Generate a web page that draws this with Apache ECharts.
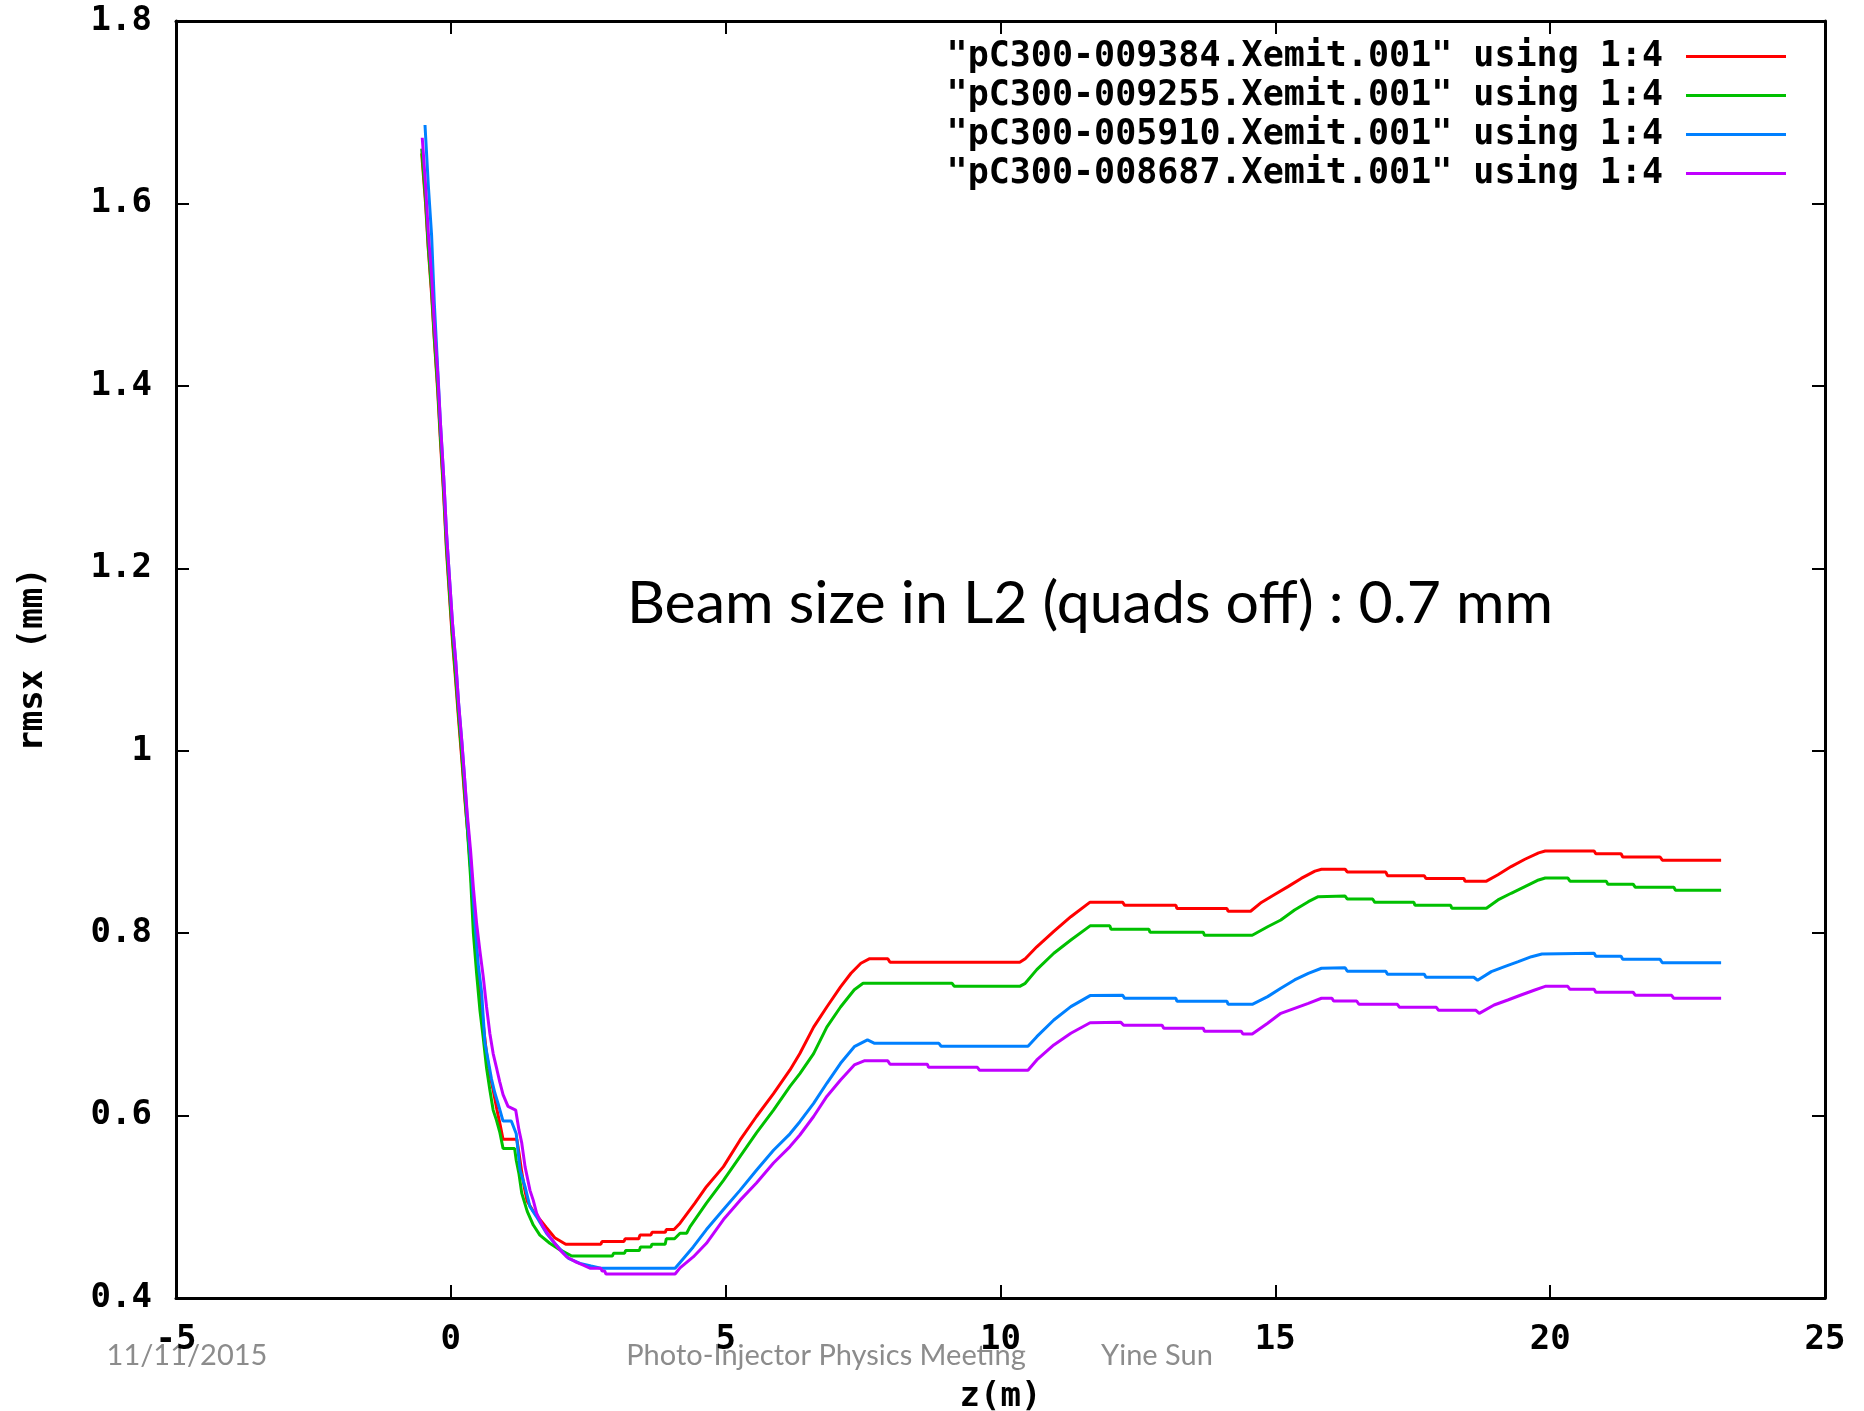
<!DOCTYPE html>
<html>
<head>
<meta charset="utf-8">
<script src="https://cdn.jsdelivr.net/npm/echarts@6/dist/echarts.min.js"></script>
<style>
html,body{margin:0;padding:0;background:#fff;}
#main{width:1864px;height:1411px;}
</style>
</head>
<body>
<div id="main"></div>
<script>
// legend names (gnuplot style)
var seriesNames = [
  '"pC300-009384.Xemit.001" using 1:4',
  '"pC300-009255.Xemit.001" using 1:4',
  '"pC300-005910.Xemit.001" using 1:4',
  '"pC300-008687.Xemit.001" using 1:4'
];
var seriesColors = ['#ff0000', '#00c000', '#0080ff', '#c000ff'];

// [z (m), rmsx (mm)]
var red009384 = [[-0.53,1.655],[-0.46,1.60],[-0.41,1.55],[-0.35,1.50],[-0.30,1.45],[-0.24,1.395],[-0.19,1.34],[-0.13,1.28],[-0.08,1.22],[-0.02,1.165],[0.03,1.12],[0.09,1.075],[0.14,1.035],[0.20,0.99],[0.25,0.95],[0.30,0.915],[0.36,0.87],[0.41,0.82],[0.47,0.775],[0.53,0.735],[0.59,0.70],[0.65,0.668],[0.71,0.645],[0.77,0.628],[0.84,0.606],[0.90,0.589],[0.95,0.574],[1.20,0.574],[1.24,0.559],[1.29,0.538],[1.35,0.517],[1.39,0.506],[1.50,0.495],[1.62,0.486],[1.74,0.477],[1.89,0.466],[2.09,0.459],[2.73,0.459],[2.75,0.462],[3.15,0.462],[3.17,0.465],[3.42,0.465],[3.44,0.469],[3.64,0.469],[3.66,0.472],[3.90,0.472],[3.92,0.475],[4.06,0.475],[4.17,0.482],[4.44,0.504],[4.65,0.522],[4.96,0.544],[5.26,0.573],[5.56,0.599],[5.87,0.624],[6.17,0.650],[6.35,0.668],[6.60,0.697],[6.84,0.719],[7.09,0.741],[7.28,0.756],[7.46,0.767],[7.62,0.772],[7.95,0.772],[7.99,0.768],[10.35,0.768],[10.45,0.772],[10.66,0.785],[10.97,0.802],[11.28,0.818],[11.63,0.834],[12.22,0.834],[12.26,0.8305],[13.19,0.8305],[13.21,0.827],[14.12,0.827],[14.14,0.824],[14.55,0.824],[14.73,0.833],[14.98,0.842],[15.23,0.851],[15.47,0.860],[15.72,0.868],[15.84,0.870],[16.27,0.870],[16.31,0.867],[17.01,0.867],[17.04,0.863],[17.71,0.863],[17.74,0.860],[18.43,0.860],[18.45,0.857],[18.84,0.857],[19.05,0.864],[19.29,0.873],[19.54,0.881],[19.79,0.888],[19.91,0.890],[20.80,0.890],[20.83,0.887],[21.29,0.887],[21.32,0.8835],[22.0,0.8835],[22.04,0.880],[23.11,0.880]];

var green009255 = [[-0.53,1.66],[-0.46,1.605],[-0.41,1.553],[-0.35,1.505],[-0.30,1.453],[-0.24,1.40],[-0.19,1.345],[-0.13,1.285],[-0.08,1.225],[-0.02,1.17],[0.03,1.125],[0.09,1.08],[0.14,1.04],[0.20,0.995],[0.25,0.955],[0.30,0.915],[0.36,0.86],[0.41,0.80],[0.47,0.755],[0.53,0.715],[0.59,0.685],[0.65,0.652],[0.71,0.628],[0.77,0.606],[0.83,0.595],[0.89,0.582],[0.95,0.564],[1.16,0.564],[1.19,0.551],[1.24,0.536],[1.29,0.515],[1.39,0.495],[1.50,0.480],[1.62,0.469],[1.80,0.460],[1.98,0.453],[2.20,0.446],[2.94,0.446],[2.96,0.449],[3.16,0.449],[3.18,0.452],[3.43,0.452],[3.45,0.456],[3.64,0.456],[3.66,0.459],[3.90,0.459],[3.92,0.465],[4.07,0.465],[4.17,0.471],[4.29,0.471],[4.35,0.478],[4.65,0.504],[4.96,0.529],[5.26,0.555],[5.56,0.581],[5.87,0.606],[6.17,0.632],[6.35,0.646],[6.60,0.668],[6.84,0.697],[7.09,0.719],[7.34,0.738],[7.50,0.745],[9.12,0.745],[9.16,0.7417],[10.35,0.7417],[10.45,0.745],[10.66,0.760],[10.97,0.778],[11.28,0.7925],[11.63,0.808],[11.99,0.808],[12.01,0.8043],[12.70,0.8043],[12.72,0.801],[13.69,0.801],[13.71,0.7977],[14.58,0.7977],[14.86,0.807],[15.10,0.8144],[15.35,0.8254],[15.60,0.8345],[15.78,0.840],[16.27,0.8407],[16.31,0.8374],[16.77,0.8374],[16.81,0.8338],[17.52,0.8338],[17.54,0.8305],[18.19,0.8305],[18.21,0.8273],[18.84,0.8273],[19.05,0.8364],[19.29,0.8437],[19.54,0.851],[19.79,0.8583],[19.91,0.8605],[20.32,0.8605],[20.36,0.857],[21.02,0.857],[21.05,0.8536],[21.51,0.8536],[21.55,0.8503],[22.25,0.8503],[22.28,0.847],[23.11,0.847]];

var blue005910 = [[-0.47,1.686],[-0.41,1.62],[-0.35,1.565],[-0.30,1.49],[-0.24,1.42],[-0.19,1.36],[-0.13,1.30],[-0.08,1.24],[-0.02,1.185],[0.03,1.14],[0.09,1.097],[0.14,1.053],[0.20,1.01],[0.25,0.97],[0.30,0.925],[0.36,0.88],[0.44,0.81],[0.50,0.765],[0.56,0.735],[0.62,0.68],[0.68,0.66],[0.74,0.64],[0.80,0.625],[0.86,0.613],[0.95,0.594],[1.10,0.594],[1.19,0.58],[1.26,0.54],[1.35,0.522],[1.44,0.50],[1.56,0.489],[1.74,0.471],[1.89,0.460],[2.14,0.4435],[2.35,0.438],[2.55,0.435],[2.73,0.4326],[4.08,0.4326],[4.17,0.439],[4.41,0.456],[4.65,0.475],[4.96,0.497],[5.26,0.518],[5.56,0.540],[5.87,0.562],[6.17,0.580],[6.35,0.5933],[6.60,0.6134],[6.84,0.6354],[7.09,0.6573],[7.34,0.6755],[7.58,0.6829],[7.71,0.6792],[8.88,0.6792],[8.92,0.676],[10.50,0.676],[10.66,0.6865],[10.97,0.7048],[11.28,0.7194],[11.63,0.7315],[12.22,0.732],[12.26,0.7286],[13.19,0.7286],[13.21,0.7253],[14.12,0.7253],[14.14,0.722],[14.58,0.722],[14.86,0.7304],[15.10,0.7395],[15.35,0.7487],[15.60,0.756],[15.84,0.7615],[16.27,0.762],[16.31,0.7582],[17.01,0.7582],[17.04,0.7549],[17.71,0.7549],[17.74,0.7516],[18.61,0.7516],[18.68,0.7483],[18.93,0.7578],[19.17,0.7632],[19.42,0.7687],[19.66,0.7742],[19.85,0.7771],[20.80,0.7779],[20.83,0.7746],[21.29,0.7746],[21.32,0.7713],[22.0,0.7713],[22.04,0.7676],[23.11,0.7676]];

var purple008687 = [[-0.52,1.672],[-0.46,1.62],[-0.41,1.568],[-0.35,1.52],[-0.30,1.468],[-0.24,1.415],[-0.19,1.36],[-0.13,1.30],[-0.08,1.24],[-0.02,1.185],[0.03,1.14],[0.09,1.097],[0.14,1.053],[0.20,1.01],[0.25,0.97],[0.30,0.93],[0.36,0.89],[0.41,0.85],[0.47,0.81],[0.53,0.78],[0.59,0.752],[0.65,0.719],[0.71,0.69],[0.77,0.668],[0.84,0.65],[0.89,0.637],[0.95,0.623],[1.04,0.61],[1.18,0.606],[1.24,0.584],[1.29,0.570],[1.35,0.544],[1.44,0.518],[1.50,0.507],[1.56,0.493],[1.68,0.478],[1.80,0.467],[1.98,0.453],[2.11,0.445],[2.29,0.439],[2.41,0.436],[2.53,0.4326],[2.73,0.4326],[2.75,0.4296],[2.80,0.4296],[2.82,0.4263],[4.08,0.4263],[4.17,0.433],[4.41,0.445],[4.65,0.460],[4.96,0.486],[5.26,0.507],[5.56,0.526],[5.87,0.548],[6.17,0.566],[6.35,0.5787],[6.60,0.599],[6.84,0.621],[7.09,0.639],[7.34,0.6555],[7.52,0.66],[7.95,0.66],[7.99,0.6562],[8.67,0.6562],[8.69,0.6529],[9.58,0.6529],[9.62,0.6496],[10.50,0.6496],[10.66,0.661],[10.97,0.6774],[11.28,0.6902],[11.63,0.7018],[12.19,0.7022],[12.24,0.699],[12.94,0.699],[12.97,0.6957],[13.69,0.6957],[13.71,0.6924],[14.38,0.6924],[14.41,0.6894],[14.58,0.6894],[14.86,0.7012],[15.10,0.7121],[15.35,0.7176],[15.60,0.7231],[15.84,0.7286],[16.03,0.7286],[16.06,0.7256],[16.48,0.7256],[16.52,0.722],[17.22,0.722],[17.26,0.7187],[17.93,0.7187],[17.97,0.7154],[18.65,0.7154],[18.71,0.7121],[18.98,0.7212],[19.23,0.7267],[19.47,0.7322],[19.72,0.7377],[19.91,0.7417],[20.32,0.7417],[20.36,0.7384],[20.80,0.7384],[20.83,0.7352],[21.51,0.7352],[21.55,0.7319],[22.21,0.7319],[22.25,0.7286],[23.11,0.7286]];

var allData = [red009384, green009255, blue005910, purple008687];

var myChart = echarts.init(document.getElementById('main'));
var mono = '"DejaVu Sans Mono", "Liberation Mono", monospace';
var slideFont = 'Lato, "Open Sans", sans-serif';

var axisLine = { show: true, onZero: false, lineStyle: { color: '#000', width: 3 } };
var axisTick = { show: true, inside: true, length: 13, lineStyle: { color: '#000', width: 2 } };

var series = [];
for (var i = 0; i < allData.length; i++) {
  series.push({
    name: seriesNames[i],
    type: 'line',
    data: allData[i],
    showSymbol: false,
    lineStyle: { color: seriesColors[i], width: 3 },
    itemStyle: { color: seriesColors[i] },
    animation: false
  });
}

var option = {
  backgroundColor: '#fff',
  animation: false,
  grid: { left: 176, right: 39, top: 21, bottom: 113, containLabel: false, outerBoundsMode: 'none' },
  legend: {
    data: seriesNames,
    orient: 'vertical',
    right: 73, top: 32,
    align: 'right',
    icon: 'rect',
    itemWidth: 100, itemHeight: 3, itemGap: 0,
    textStyle: { fontFamily: mono, fontWeight: 'bold', fontSize: 35, color: '#000', lineHeight: 39, padding: [0, 18, 0, 0] }
  },
  xAxis: [{
    type: 'value', min: -5, max: 25, interval: 5,
    name: 'z(m)', nameLocation: 'middle', nameGap: 82,
    nameTextStyle: { fontFamily: mono, fontWeight: 'bold', fontSize: 34, color: '#000' },
    axisLine: axisLine, axisTick: axisTick, splitLine: { show: false },
    axisLabel: { margin: 25, fontFamily: mono, fontWeight: 'bold', fontSize: 34, color: '#000' }
  }, {
    type: 'value', min: -5, max: 25, interval: 5, position: 'top',
    axisLine: axisLine, axisTick: axisTick, splitLine: { show: false },
    axisLabel: { show: false }
  }],
  yAxis: [{
    type: 'value', min: 0.4, max: 1.8, interval: 0.2,
    name: 'rmsx (mm)', nameLocation: 'middle', nameGap: 126, nameRotate: 90,
    nameTextStyle: { fontFamily: mono, fontWeight: 'bold', fontSize: 34, color: '#000' },
    axisLine: axisLine, axisTick: axisTick, splitLine: { show: false },
    axisLabel: {
      margin: 24, fontFamily: mono, fontWeight: 'bold', fontSize: 34, color: '#000',
      formatter: function (v) { return String(+v.toFixed(1)); }
    }
  }, {
    type: 'value', min: 0.4, max: 1.8, interval: 0.2, position: 'right',
    axisLine: axisLine, axisTick: axisTick, splitLine: { show: false },
    axisLabel: { show: false }
  }],
  graphic: [
    { type: 'text', z: 100,
      style: { text: 'Beam size in L2 (quads off) : 0.7 mm', x: 1090, y: 604, align: 'center', verticalAlign: 'middle',
               fontFamily: slideFont, fontSize: 59, fill: '#000' } },
    { type: 'text', z: -1,
      style: { text: '11/11/2015', x: 187, y: 1356, align: 'center', verticalAlign: 'middle',
               fontFamily: slideFont, fontSize: 29, fill: '#8c8c8c' } },
    { type: 'text', z: -1,
      style: { text: 'Photo-Injector Physics Meeting', x: 826, y: 1356, align: 'center', verticalAlign: 'middle',
               fontFamily: slideFont, fontSize: 29, fill: '#8c8c8c' } },
    { type: 'text', z: -1,
      style: { text: 'Yine Sun', x: 1157, y: 1356, align: 'center', verticalAlign: 'middle',
               fontFamily: slideFont, fontSize: 29, fill: '#8c8c8c' } }
  ],
  series: series
};

myChart.setOption(option);
window.onresize = myChart.resize;
</script>
</body>
</html>
